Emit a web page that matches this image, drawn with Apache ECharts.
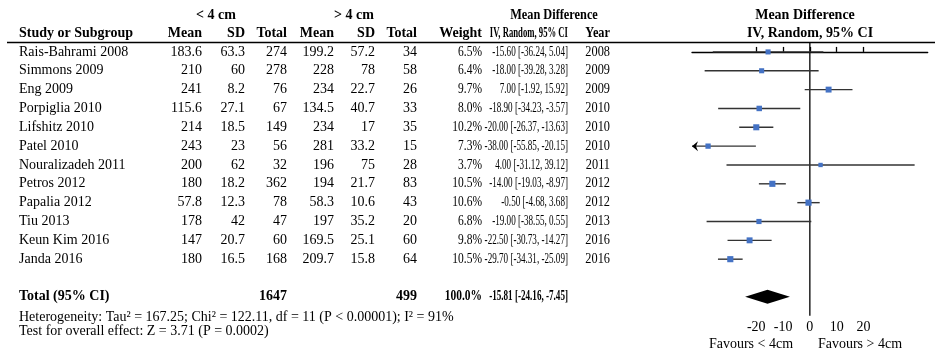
<!DOCTYPE html>
<html>
<head>
<meta charset="utf-8">
<script src="https://cdn.jsdelivr.net/npm/echarts@6/dist/echarts.min.js"></script>
<style>html,body{margin:0;padding:0;background:#fff;}#c{width:936px;height:352px;}</style>
</head>
<body>
<div id="c"></div>
<script>
const studies = ['Rais-Bahrami 2008','Simmons 2009','Eng 2009','Porpiglia 2010','Lifshitz 2010','Patel 2010','Nouralizadeh 2011','Petros 2012','Papalia 2012','Tiu 2013','Keun Kim 2016','Janda 2016'];
const mean1 = [183.6,210,241,115.6,214,243,200,180,57.8,178,147,180];
const sd1 = [63.3,60,8.2,27.1,18.5,23,62,18.2,12.3,42,20.7,16.5];
const n1 = [274,278,76,67,149,56,32,362,78,47,60,168];
const mean2 = [199.2,228,234,134.5,234,281,196,194,58.3,197,169.5,209.7];
const sd2 = [57.2,78,22.7,40.7,17,33.2,75,21.7,10.6,35.2,25.1,15.8];
const n2 = [34,58,26,33,35,15,28,83,43,20,60,64];
const weights = [6.5,6.4,9.7,8.0,10.2,7.3,3.7,10.5,10.6,6.8,9.8,10.5];
const md = [-15.60,-18.00,7.00,-18.90,-20.00,-38.00,4.00,-14.00,-0.50,-19.00,-22.50,-29.70];
const ciLo = [-36.24,-39.28,-1.92,-34.23,-26.37,-55.85,-31.12,-19.03,-4.68,-38.55,-30.73,-34.31];
const ciHi = [5.04,3.28,15.92,-3.57,-13.63,-20.15,39.12,-8.97,3.68,0.55,-14.27,-25.09];
const years = [2008,2009,2009,2010,2010,2010,2011,2012,2012,2013,2016,2016];
const totalN1 = 1647, totalN2 = 499, totalWeight = 100.0;
const totalMd = -15.81, totalLo = -24.16, totalHi = -7.45;
const xTicks = [-20,-10,0,10,20];
const xMin = -44, xMax = 44;

const FONT = '"Liberation Serif"';
const FS = 14;
const REG = FS+'px '+FONT;
const BOLD = 'bold '+FS+'px '+FONT;
const totalRow = 13;

function ciText(m, l, h){ return m.toFixed(2)+' ['+l.toFixed(2)+', '+h.toFixed(2)+']'; }

const cols = [
  {x:19, align:'left', s:1, get:i=>studies[i], head:'Study or Subgroup', hs:1},
  {x:202, align:'right', s:1, get:i=>String(mean1[i]), head:'Mean', hs:1},
  {x:245, align:'right', s:1, get:i=>String(sd1[i]), head:'SD', hs:1},
  {x:287, align:'right', s:1, get:i=>String(n1[i]), head:'Total', hs:1},
  {x:334, align:'right', s:1, get:i=>String(mean2[i]), head:'Mean', hs:1},
  {x:375, align:'right', s:1, get:i=>String(sd2[i]), head:'SD', hs:1},
  {x:417, align:'right', s:1, get:i=>String(n2[i]), head:'Total', hs:1},
  {x:482, align:'right', s:0.82, get:i=>weights[i].toFixed(1)+'%', head:'Weight', hs:1},
  {x:568, align:'right', s:0.65, get:i=>ciText(md[i],ciLo[i],ciHi[i]), head:'IV, Random, 95% CI', hs:0.62},
  {x:610, align:'right', s:0.88, get:i=>String(years[i]), head:'Year', hs:0.88}
];

function txt(t, x, y, align, font, s){
  return {type:'text', x:x, y:y, scaleX:s||1, silent:true,
    style:{text:t, x:0, y:0, align:align, verticalAlign:'middle', font:font, fill:'#000'}};
}

const chart = echarts.init(document.getElementById('c'), null, {renderer:'canvas'});

const tableData = studies.map((s,i)=>[0,i]);
const ciData = studies.map((s,i)=>[ciLo[i],ciHi[i],i]);
const ptData = studies.map((s,i)=>[md[i],i,weights[i]]);

const graphics = [
  {type:'line', silent:true, shape:{x1:7,y1:42.5,x2:935,y2:42.5}, style:{stroke:'#000', lineWidth:1.5}},
  txt('< 4 cm', 216, 15, 'center', BOLD),
  txt('> 4 cm', 354, 15, 'center', BOLD),
  txt('Mean Difference', 554, 15, 'center', BOLD, 0.88),
  txt('Mean Difference', 805, 15, 'center', BOLD),
  txt('IV, Random, 95% CI', 810, 33, 'center', BOLD),
  txt('Heterogeneity: Tau² = 167.25; Chi² = 122.11, df = 11 (P < 0.00001); I² = 91%', 19, 317, 'left', REG),
  txt('Test for overall effect: Z = 3.71 (P = 0.0002)', 19, 331, 'left', REG),
  txt('Favours < 4cm', 751, 344, 'center', REG),
  txt('Favours > 4cm', 860, 344, 'center', REG)
].concat(cols.map(c=>txt(c.head, c.x, 33, c.align, BOLD, c.hs)));

const option = {
  animation:false,
  backgroundColor:'#fff',
  grid:{left:692, top:42.5, width:235.7, height:273.2, containLabel:false},
  xAxis:{type:'value', min:xMin, max:xMax,
    axisLine:{show:true, lineStyle:{color:'#000', width:1.3}},
    axisTick:{show:true, inside:true, length:5, customValues:xTicks, lineStyle:{color:'#000', width:1.3}},
    axisLabel:{show:true, customValues:xTicks, margin:5, color:'#000', fontFamily:'Liberation Serif', fontSize:FS},
    splitLine:{show:false}},
  yAxis:{type:'value', min:-0.5, max:14, inverse:true, show:false},
  graphic:graphics,
  series:[
    {type:'custom', name:'table', data:tableData, clip:false, silent:true,
      renderItem:function(params, api){
        const i = api.value(1);
        const y = api.coord([0,i])[1];
        return {type:'group', children: cols.map(c=>txt(c.get(i), c.x, y, c.align, REG, c.s))};
      }},
    {type:'custom', name:'total', data:[[0,totalRow]], clip:false, silent:true,
      renderItem:function(params, api){
        const y = api.coord([0,api.value(1)])[1];
        return {type:'group', children:[
          txt('Total (95% CI)', 19, y, 'left', BOLD),
          txt(String(totalN1), 287, y, 'right', BOLD),
          txt(String(totalN2), 417, y, 'right', BOLD),
          txt(totalWeight.toFixed(1)+'%', 482, y, 'right', BOLD, 0.82),
          txt(ciText(totalMd,totalLo,totalHi), 568, y, 'right', BOLD, 0.65)
        ]};
      }},
    {type:'line', data:[[0,-0.5],[0,14]], symbol:'none', silent:true, lineStyle:{color:'#000', width:1.3}, z:1},
    {type:'custom', name:'ci', data:ciData, clip:false, silent:true, z:2,
      renderItem:function(params, api){
        const lo = api.value(0), hi = api.value(1), r = api.value(2);
        const l = Math.max(lo, xMin), h = Math.min(hi, xMax);
        const p1 = api.coord([l, r]), p2 = api.coord([h, r]);
        const ch = [{type:'line', shape:{x1:p1[0], y1:p1[1], x2:p2[0], y2:p2[1]}, style:{stroke:'#333', lineWidth:1.4}}];
        if (lo < xMin) {
          ch.push({type:'polygon', shape:{points:[[p1[0],p1[1]],[p1[0]+6,p1[1]-5],[p1[0]+4,p1[1]],[p1[0]+6,p1[1]+5]]}, style:{fill:'#000'}});
        }
        if (hi > xMax) {
          ch.push({type:'polygon', shape:{points:[[p2[0],p2[1]],[p2[0]-6,p2[1]-5],[p2[0]-4,p2[1]],[p2[0]-6,p2[1]+5]]}, style:{fill:'#000'}});
        }
        return {type:'group', children:ch};
      }},
    {type:'scatter', data:ptData, symbol:'rect', z:3, silent:true,
      symbolSize:function(v){ return 3.4 + 0.26*v[2]; },
      itemStyle:{color:'#4472C4', opacity:1}},
    {type:'custom', name:'diamond', data:[[totalLo,totalMd,totalHi,totalRow]], clip:false, silent:true, z:3,
      renderItem:function(params, api){
        const r = api.value(3);
        const a = api.coord([api.value(0), r]), m = api.coord([api.value(1), r]), b = api.coord([api.value(2), r]);
        return {type:'polygon', shape:{points:[[a[0],a[1]],[m[0],m[1]-7],[b[0],b[1]],[m[0],m[1]+7]]}, style:{fill:'#000'}};
      }}
  ]
};
chart.setOption(option);
</script>
</body>
</html>
